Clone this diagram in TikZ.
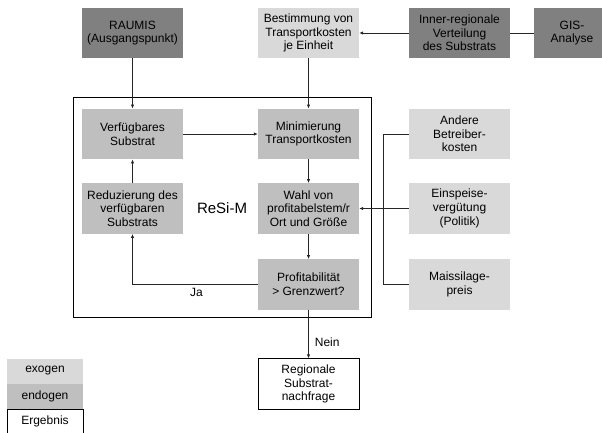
\documentclass[tikz,border=0pt]{standalone}
\usepackage{fontspec}
\setmainfont{Liberation Sans}
\usetikzlibrary{arrows.meta}
\definecolor{darkg}{HTML}{808080}
\definecolor{midg}{HTML}{BFBFBF}
\definecolor{lightg}{HTML}{D9D9D9}
\tikzset{
  box/.style={inner sep=0pt, align=center, font=\fontsize{12}{13.7}\selectfont, minimum height=50.5pt},
  exobox/.style={box, fill=lightg, minimum width=101pt},
  endobox/.style={box, fill=midg, minimum width=101pt},
  resbox/.style={box, fill=white, draw=black, line width=0.8pt, minimum width=101pt},
  legbox/.style={inner sep=0pt, minimum width=76pt, minimum height=25pt, font=\fontsize{12}{13.7}\selectfont},
  conn/.style={line width=0.8pt, draw=black!85},
  arr/.style={conn, -{Latex[length=4pt,width=3.5pt]}},
  lbl/.style={font=\fontsize{12}{13.7}\selectfont, inner sep=0pt}
}
\begin{document}
\begin{tikzpicture}[x=1pt,y=-1pt]
\useasboundingbox (0,0) rectangle (602,432);
\clip (0,0) rectangle (602,432);
% frame
\node (frame) [draw=black, line width=0.9pt, minimum width=298pt, minimum height=220pt, inner sep=0pt] at (222,207) {};
% top row
\node (raumis) [box, fill=darkg, minimum width=101pt] at (132.5,33) {RAUMIS\\(Ausgangspunkt)};
\node (best) [exobox] at (308.5,33) {Bestimmung von\\Transportkosten\\je Einheit};
\node (inner) [box, fill=darkg, minimum width=101pt] at (459.5,33) {Inner-regionale\\Verteilung\\des Substrats};
\node (gis) [box, fill=darkg, minimum width=76pt] at (572,33) {GIS-\\Analyse};
% model boxes
\node (verf) [endobox] at (132.5,134) {Verfügbares\\Substrat};
\node (mini) [endobox] at (308.5,134) {Minimierung\\Transportkosten};
\node (redu) [endobox] at (132.5,208.5) {Reduzierung des\\verfügbaren\\Substrats};
\node (wahl) [endobox] at (308.5,208.5) {Wahl von\\profitabelstem/r\\Ort und Größe};
\node (prof) [endobox] at (308.5,284.5) {Profitabilität\\> Grenzwert?};
\node (resim) [lbl, font=\fontsize{15}{17}\selectfont] at (222,208) {ReSi-M};
% right boxes
\node (andere) [exobox] at (459.5,134) {Andere\\Betreiber-\\kosten};
\node (einsp) [exobox] at (459.5,208.5) {Einspeise-\\vergütung\\(Politik)};
\node (mais) [exobox] at (459.5,284.5) {Maissilage-\\preis};
% result
\node (regio) [resbox] at (308.5,384) {Regionale\\Substrat-\\nachfrage};
% legend
\node (exo) [legbox, fill=lightg] at (45,371) {exogen};
\node (endo) [legbox, fill=midg] at (45,396) {endogen};
\node (erg) [legbox, draw=black, line width=0.8pt, fill=white, anchor=north] at (45,408.5) {Ergebnis};
% connectors
\draw[arr] (raumis) -- (verf);
\draw[arr] (best) -- (mini);
\draw[arr] (inner) -- (best);
\draw[conn] (gis) -- (inner);
\draw[arr] (verf) -- (mini);
\draw[arr] (mini) -- (wahl);
\draw[arr] (wahl) -- (prof);
\draw[arr] (redu) -- (verf);
\draw[arr] (prof.west |- 0,284) -| node[lbl, pos=0.245, below=4pt] (ja) {Ja} (redu.south);
\coordinate (junc) at (383,208.5);
\draw[conn] (andere.west) -| (junc);
\draw[conn] (mais.west |- 0,284) -| (junc);
\draw[arr] (einsp.west) -- (wahl.east);
\draw[arr] (prof) -- node[lbl, right=6pt, pos=0.67] (nein) {Nein} (regio);
\end{tikzpicture}
\end{document}
